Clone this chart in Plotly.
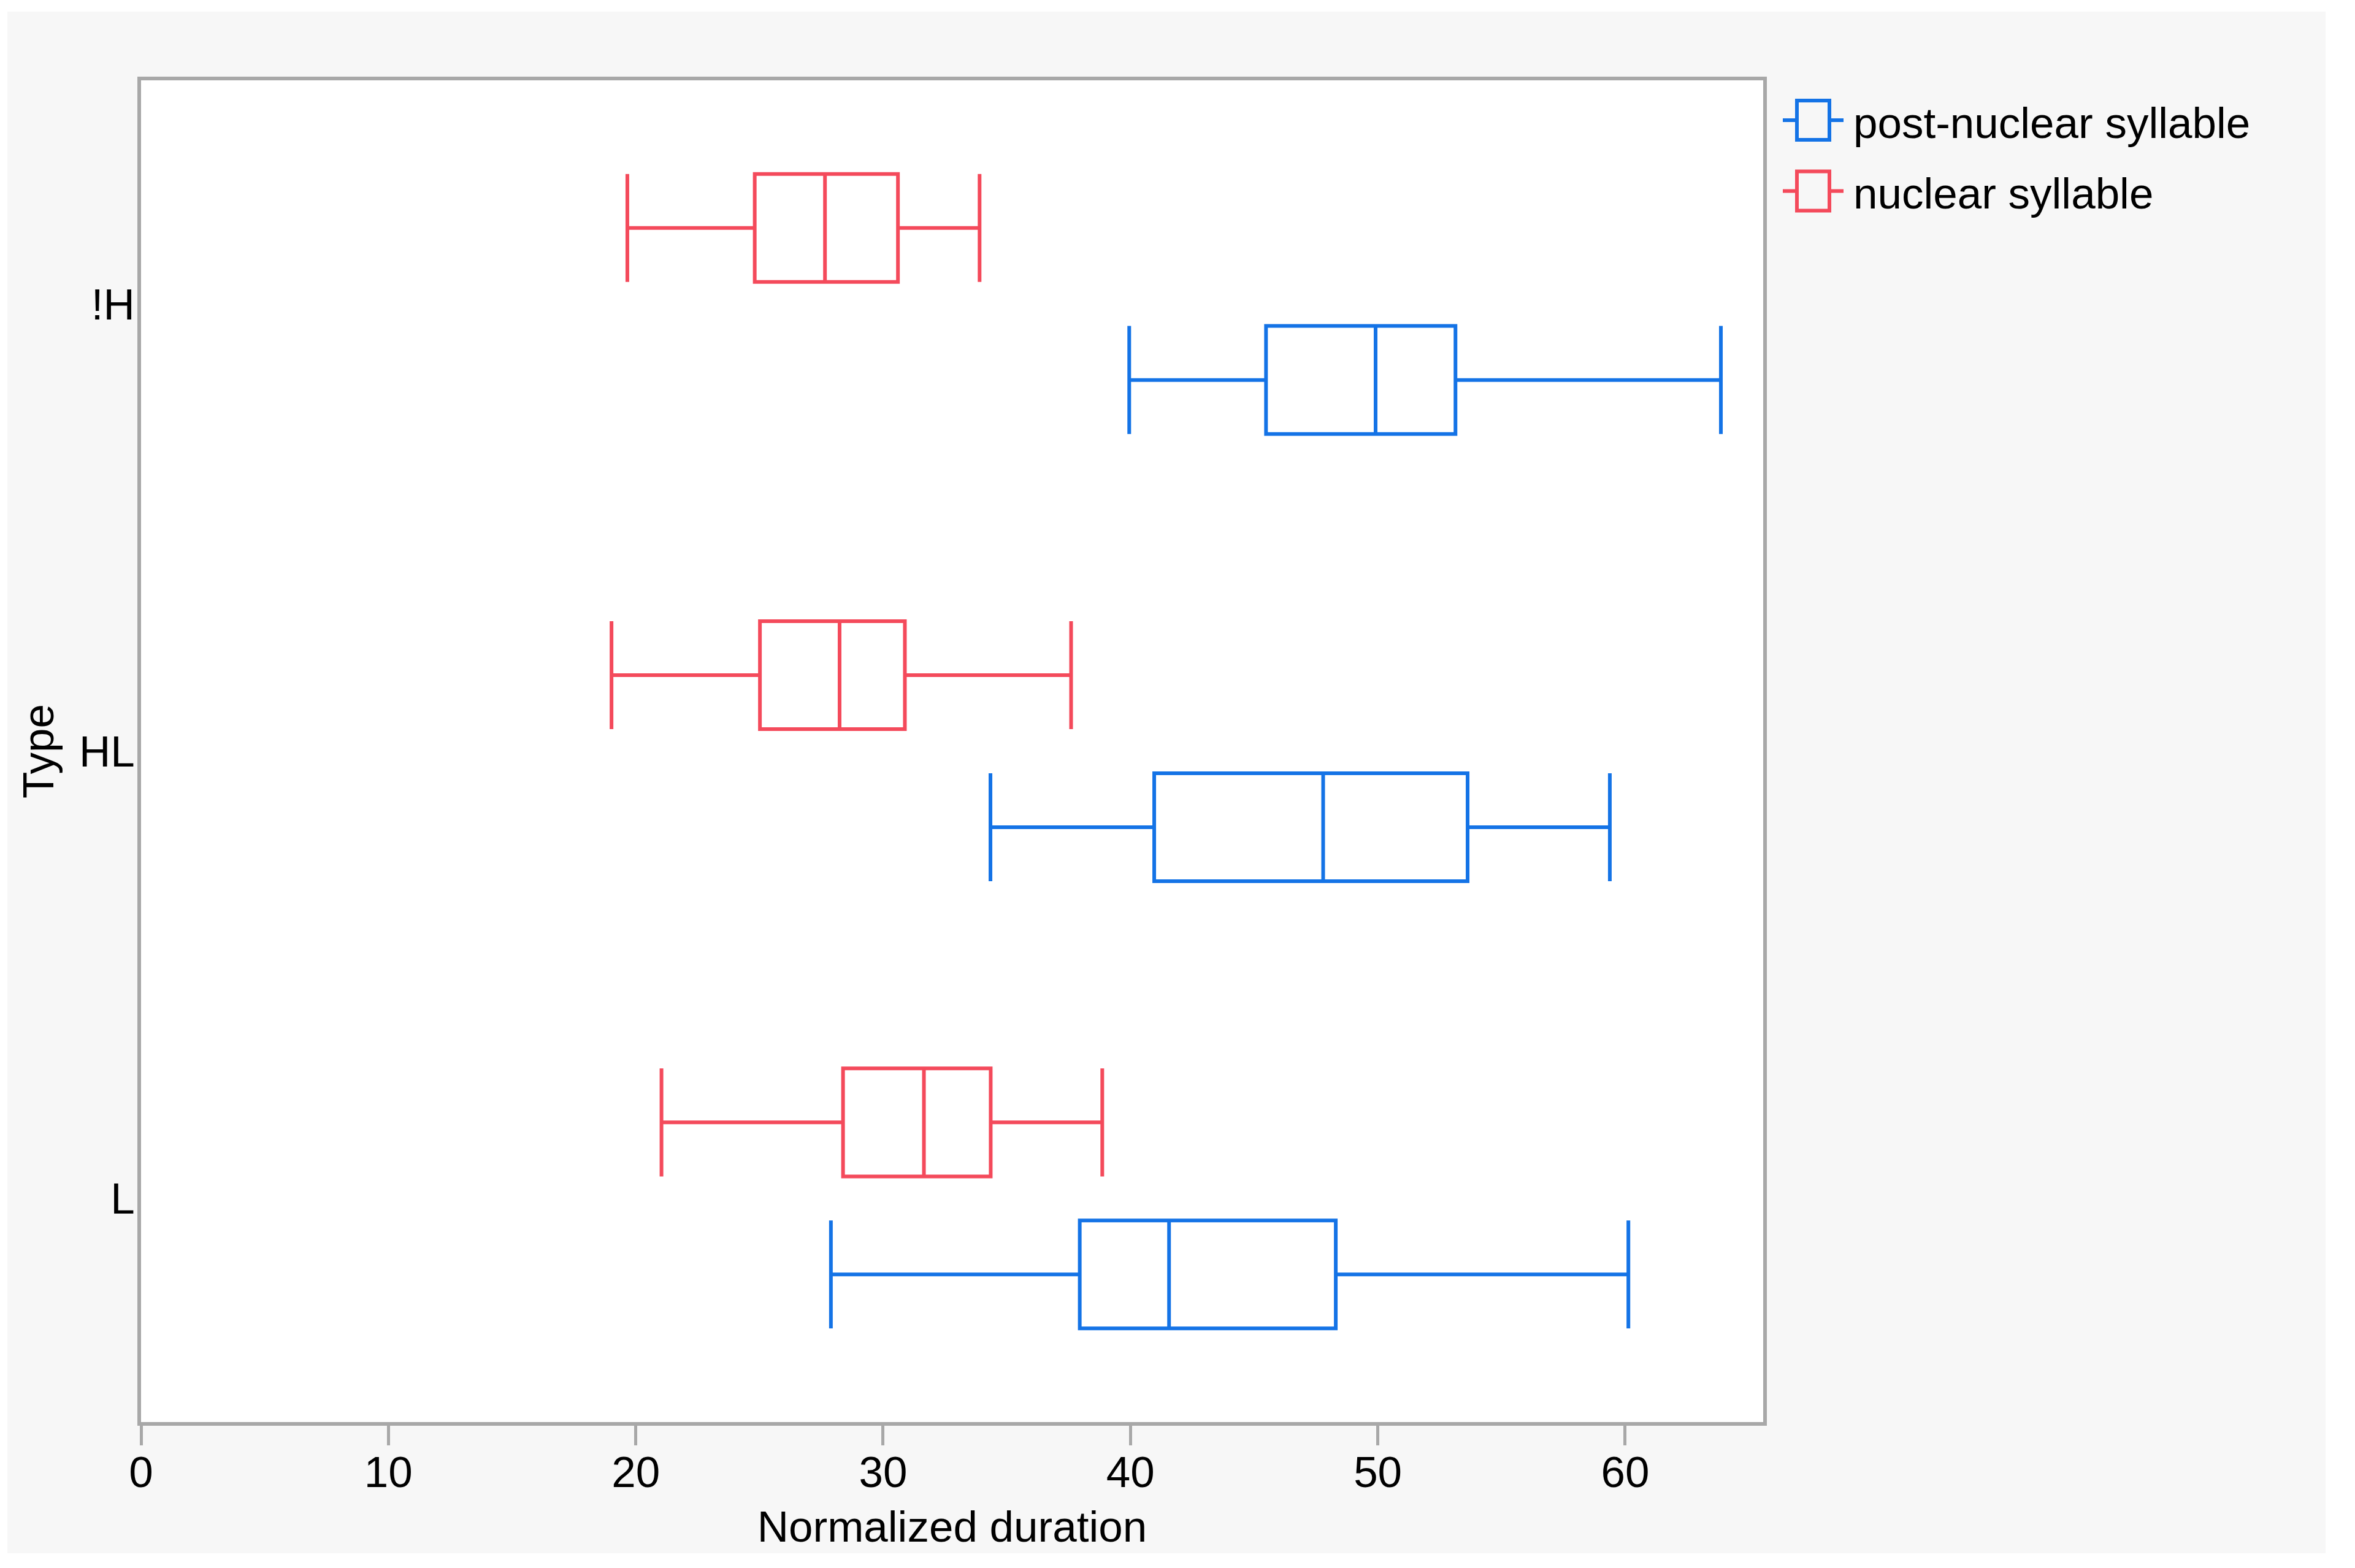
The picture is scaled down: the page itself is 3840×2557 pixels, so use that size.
import plotly.graph_objects as go

# ---- data ----
categories = ["L", "HL", "!H"]

post_lower = [27.89, 34.34, 39.95]
post_q1 = [37.95, 40.96, 45.48]
post_median = [41.56, 47.79, 49.91]
post_q3 = [48.30, 53.63, 53.14]
post_upper = [60.13, 59.38, 63.87]

nuc_lower = [21.04, 19.02, 19.66]
nuc_q1 = [28.38, 25.02, 24.81]
nuc_median = [31.65, 28.24, 27.65]
nuc_q3 = [34.35, 30.88, 30.60]
nuc_upper = [38.86, 37.60, 33.90]

series_names = ["post-nuclear syllable", "nuclear syllable"]
x_ticks = [0, 10, 20, 30, 40, 50, 60]

BLUE = "#1473E6"
RED = "#F44A5B"
series_colors = [BLUE, RED]
FRAME = "#A8A8A8"
FONT = "Liberation Sans, Arial, Helvetica, sans-serif"
FS = 71
LW = 6

# page body has a small margin; work in screen pixels and shift
OFF = 6
W, H = 3840 - OFF, 2557 - OFF
L, R, T, B = 228 - OFF, 2873 - OFF, 129 - OFF, 2317 - OFF

fig = go.Figure()
fig.add_trace(go.Box(
    name=series_names[0], orientation="h", y=categories,
    lowerfence=post_lower, q1=post_q1, median=post_median, q3=post_q3,
    upperfence=post_upper, boxpoints=False, whiskerwidth=1,
    line=dict(color=BLUE, width=LW), fillcolor="rgba(255,255,255,0)",
    showlegend=False,
))
fig.add_trace(go.Box(
    name=series_names[1], orientation="h", y=categories,
    lowerfence=nuc_lower, q1=nuc_q1, median=nuc_median, q3=nuc_q3,
    upperfence=nuc_upper, boxpoints=False, whiskerwidth=1,
    line=dict(color=RED, width=LW), fillcolor="rgba(255,255,255,0)",
    showlegend=False,
))

pw, ph = R - L, B - T
def px_x(p):
    return (p - OFF - L) / pw
def px_y(p):
    return (B - (p - OFF)) / ph

shapes = [
    dict(type="rect", xref="paper", yref="paper", layer="below",
         x0=px_x(10), x1=px_x(3790), y0=px_y(2531), y1=px_y(17),
         fillcolor="#F7F7F7", line=dict(width=0)),
    dict(type="rect", xref="paper", yref="paper", layer="below",
         x0=0, x1=1, y0=0, y1=1, fillcolor="white", line=dict(width=0)),
]
annotations = []

# legend (box-with-whiskers icons, like the reference)
leg_centers = [194, 309.5]
for name, col, cy in zip(series_names, series_colors, leg_centers):
    shapes.append(dict(type="rect", xref="paper", yref="paper",
                       x0=px_x(2928), x1=px_x(2981), y0=px_y(cy + 32), y1=px_y(cy - 32),
                       line=dict(color=col, width=LW), fillcolor="rgba(0,0,0,0)"))
    shapes.append(dict(type="line", xref="paper", yref="paper",
                       x0=px_x(2905), x1=px_x(2928), y0=px_y(cy), y1=px_y(cy),
                       line=dict(color=col, width=LW)))
    shapes.append(dict(type="line", xref="paper", yref="paper",
                       x0=px_x(2981), x1=px_x(3004), y0=px_y(cy), y1=px_y(cy),
                       line=dict(color=col, width=LW)))
    annotations.append(dict(xref="paper", yref="paper", x=px_x(3018), y=px_y(cy + 4),
                            xanchor="left", yanchor="middle", showarrow=False,
                            text=name, font=dict(size=FS, family=FONT, color="black")))

fig.update_layout(
    width=W, height=H,
    margin=dict(l=L, r=W - R, t=T, b=H - B, pad=0),
    paper_bgcolor="white", plot_bgcolor="white",
    boxmode="group", boxgap=0.32, boxgroupgap=0.29,
    font=dict(family=FONT, size=FS, color="black"),
    showlegend=False,
    shapes=shapes, annotations=annotations,
)
fig.update_xaxes(
    range=[0, 65.58], tickmode="array", tickvals=x_ticks,
    ticktext=[str(v) for v in x_ticks],
    showgrid=False, zeroline=False,
    showline=True, linecolor=FRAME, linewidth=6, mirror=True,
    ticks="outside", ticklen=32, tickwidth=5, tickcolor=FRAME,
    ticklabelstandoff=-17,
    tickfont=dict(size=FS, family=FONT),
    title=dict(text="Normalized duration", font=dict(size=FS, family=FONT), standoff=27),
)
fig.update_yaxes(
    type="category", categoryorder="array", categoryarray=categories,
    range=[-0.5, 2.5],
    showgrid=False, zeroline=False,
    showline=True, linecolor=FRAME, linewidth=6, mirror=True,
    ticks="", ticklabelstandoff=-10,
    tickfont=dict(size=FS, family=FONT),
    title=dict(text="Type", font=dict(size=FS, family=FONT), standoff=20),
)

fig.write_html("out.html")
